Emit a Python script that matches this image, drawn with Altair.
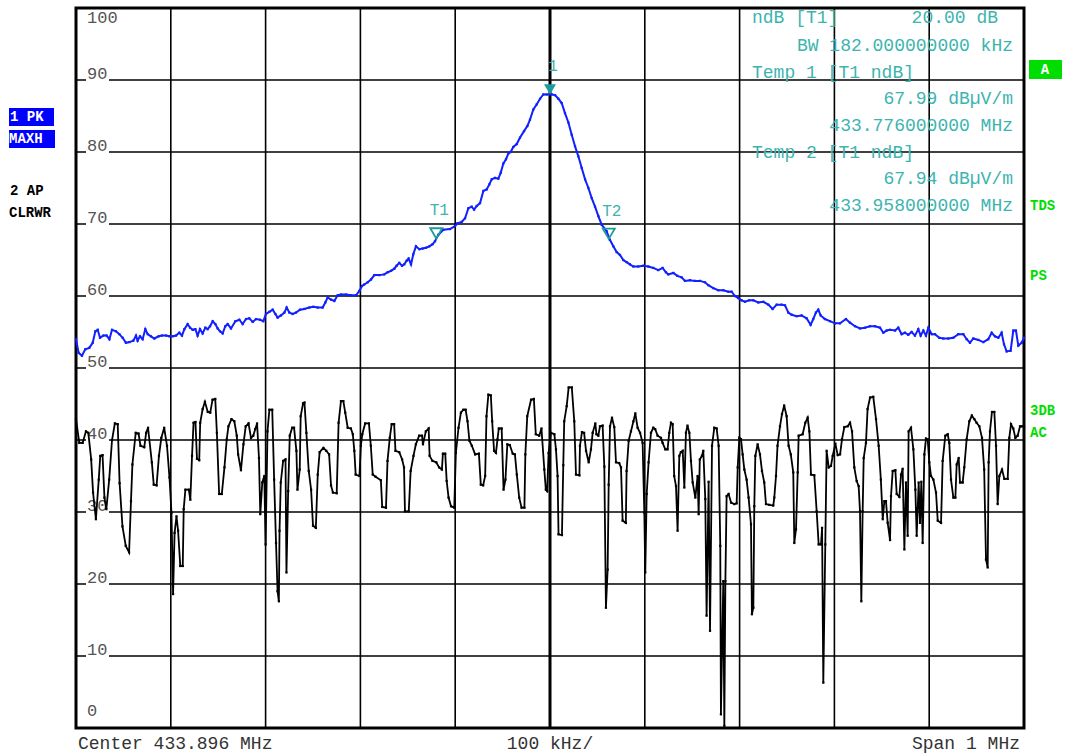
import altair as alt
import pandas as pd

# ---------------- data ----------------
F_START = 433.396  # MHz, left edge (center 433.896, span 1 MHz)

black_khz = [0, 3.5, 7, 10.5, 13, 16, 18, 21, 24, 25.6, 28, 30, 32, 35, 38, 41, 44, 46, 49, 52.5, 56, 58, 59.5, 63, 66, 68, 72, 74, 76, 80, 82, 85, 87.5, 90, 93, 96, 98.6, 100.7, 102.4, 104, 106, 107.7, 110, 112.6, 113.6, 115.4, 119, 120.6, 122.4, 124, 126, 127.6, 130, 131, 133.6, 136, 139, 141.6, 144, 146.9, 148.6, 151, 153.8, 156.6, 159, 160.8, 164, 167, 169.6, 171, 174, 176.6, 179, 182, 184.6, 187, 189, 191, 193, 194.4, 196.5, 198.6, 200, 202, 204, 207, 209, 211, 212.6, 214, 214.7, 216, 218.5, 221, 222, 223.8, 225.5, 228, 230, 232.5, 233.6, 236, 237, 239.5, 241, 243, 245.5, 248, 250,
             253, 255, 257, 261, 264, 267, 269, 271, 275, 277, 279.5, 282, 284, 286.6, 290, 292, 293.6, 295, 299, 300.5, 302, 305, 309, 311, 313, 316, 321.6, 323, 327, 328.6, 331, 333, 335.6, 337, 341, 344, 346, 347, 351, 353, 356, 358.5, 362, 365, 366, 369, 372, 373, 376, 380, 383, 386, 387, 389.5, 391, 393, 395.6, 399, 400.7, 403.5, 406, 408.6, 411, 413, 415, 417.6, 421, 425, 427, 429.5, 431.6, 433, 435, 437.6, 439, 441, 443, 444.6, 446, 449, 451, 453, 455, 457.6, 460.7, 463, 465, 467.5, 470, 473, 474, 476, 480, 483, 485, 488.6, 491, 494, 495.6, 497, 498.5, 501, 504.6,
             506.3, 508, 509, 512.6, 514, 515, 517.6, 519.7, 523, 525.6, 527.4, 531, 531.6, 533.7, 536, 538, 540.8, 543.2, 545, 547.8, 549, 551, 552.7, 555.5, 557.3, 559, 560.8, 561.9, 563.3, 565.4, 567.8, 569.6, 573, 574.9, 576.6, 580, 580.8, 583, 585.4, 588, 590, 592.4, 595, 597.7, 599.5, 600.5, 602, 604, 606.5, 609, 611, 613.5, 617, 618.8, 621.6, 624, 625.8, 627.6, 629.4, 631, 632.9, 634.6, 636.4, 638, 640, 641.7, 643.4, 645, 647, 648.7, 650.5, 653.3, 655.7, 656.8, 658, 660.3, 661.7, 663.8, 665.2, 667.3, 668.8, 670.9, 673.3, 675.8, 677.9, 679.6, 680.3, 682.8, 683.9, 685, 686.3, 688.4, 691, 694.4, 696.9, 698, 699.7, 701.5, 703.2, 705, 707.4, 709.5, 712, 713, 714.5, 715.5, 716.6, 719, 721.5, 723.6, 726, 727.8, 731.3, 735.5, 736.6, 738.4, 740, 742.6, 744.7, 747, 749.6, 751.7, 754, 756.6, 757.7,
             759.5, 761.3, 762.3, 766.5, 769.3, 771.8, 773.6, 775.3, 778.8, 781.3, 783.4, 785.9, 787, 788.3, 790.4, 791.8, 794, 796.4, 798.2, 801, 803.5, 806, 808, 810.5, 814, 816.5, 818.6, 821, 823.5, 825.6, 827, 828.4, 829.8, 830.9, 833.3, 835, 837.6, 841, 843.9, 846.7, 849, 851, 852.7, 854.4, 856.2, 858.7, 859.7, 861.5, 864.3, 865.7, 868.5, 870.3, 872, 873.8, 875.5, 877.3, 878.3, 880.8, 883.3, 885.4, 886.8, 888.9, 890.3, 891.7, 893.1, 894.9, 896.6, 898.4, 900.1, 901.9, 904.4, 907.2, 909, 912.5, 914.2, 917, 919.5, 921.2, 923, 925.5, 927.6, 929, 931.1, 932.5, 935.3, 937, 939.5, 942.3, 945, 947.6, 950, 952.9, 955.7, 958, 959.9, 961.7, 962.7, 964.1, 966.2, 968.7, 970.5, 972.2, 974, 976.8, 979.3, 982.8, 984.5, 986.3, 988.7, 990.9, 993.3, 995.8, 998, 1000]
black_db = [42.9, 39.6, 39.6, 41.2, 41, 37.3, 32.7, 29, 34.5, 37.8, 37.9, 32, 30.4, 34.5, 40, 42.3, 42.2, 34, 28, 25.3, 24.4, 31.5, 36.6, 41, 40.9, 39.2, 39, 41, 41.7, 36.9, 33.8, 33.7, 37.8, 40.3, 41.7, 39.2, 34.8, 29.9, 18.6, 27.1, 29.4, 27.4, 22.5, 22.5, 30.4, 33.1, 33.1, 31.7, 37.8, 42.4, 42.5, 37.4, 37.2, 42.4, 44.3, 45.3, 43.9, 43.8, 45.6, 45.7, 41, 32.5, 32.5, 36.2, 40.1, 41.9, 42.9, 42.6, 40.6, 38, 35.8, 39.4, 41.9, 42.3, 40.3, 40.6, 41.5, 42.3, 37.5, 29.7, 34.1, 35, 25.5, 41.2, 44.2, 44.2, 34.5, 25.7, 19, 17.6, 27.4, 34.1, 37.1, 37.3, 21.6, 32.9, 40.6, 41.7, 41.7, 38.5, 33.1, 35.9, 43.3, 45.1, 45.2, 41, 35.7, 33.1, 28.1,
            27.8, 35.2, 38.3, 38.9, 38.5, 38, 33.7, 32.7, 32.6, 42.4, 45.4, 45.4, 43.8, 41.7, 41.6, 40.8, 38.5, 35.2, 35, 39.2, 40.8, 42.3, 42.3, 39.2, 35.2, 34.9, 34.4, 30.7, 30.6, 37.1, 40.3, 42.2, 42.2, 38.5, 38.3, 37.3, 36.2, 30.1, 30.1, 35.7, 37.8, 39.4, 40.6, 40.6, 39.4, 41.2, 41.6, 37.8, 37.1, 36.9, 36.2, 35.9, 38.1, 38.1, 34.3, 32, 30.8, 30.6, 38.2, 41.7, 43.8, 44.2, 44.2, 42.6, 39.9, 39.2, 38, 38.1, 33.8, 33.7, 35, 43.3, 46.3, 46.2, 42.6, 38.5, 38.2, 40.1, 41.6, 41.6, 33.1, 34.5, 39.4, 39.3, 38.1, 38, 35.2, 32, 30.6, 30.6, 38, 43.3, 45.6, 45.7, 40.8, 40.6, 41.6, 35.9, 33.1, 32.9, 38.2, 41, 40.8,
            38.7, 35, 26.9, 26.8, 36.5, 42.6, 44.7, 47.3, 47.3, 42.6, 35.2, 35.1, 39.2, 41.1, 41, 38.5, 36.9, 38.7, 41, 42.3, 40.8, 40.6, 41.9, 42, 36.3, 16.7, 22, 33.8, 41.9, 43.1, 41.8, 36.9, 36.8, 36.2, 28.8, 28.5, 35.7, 39.9, 41.2, 42.6, 43.7, 41.7, 41, 39.6, 29.9, 21.6, 32.5, 36.9, 41, 41.7, 41.5, 40.6, 40.3, 39.6, 38.7, 38.7, 41, 42.4, 42.2, 35, 33.6, 27.4, 37.8, 38.3, 38.5, 33.4, 41, 42, 41, 37.1, 34.1, 32, 35, 29.7, 37.3, 37.8, 38.5, 31.8, 15.6, 34.2, 13.5, 39.2, 41.7, 41.6, 39.2, 25.3, 1.9, 20.4, 0.3, 20.4, 32.2, 32.5, 31.3, 31.1, 31.2, 36.2, 40.3, 40.1, 38, 35.9, 34.5, 32, 28.3, 15.8, 16.7, 30.8, 37.8, 39.4, 38, 35.7, 34.1, 31.1, 31, 30.9, 32, 35, 39.2, 41.9, 43.6, 44.8, 43.3, 39.2, 38, 35.5, 25.7,
            27.6, 35.5, 40.6, 40.8, 42.4, 43.1, 41.2, 35.2, 35.1, 30.1, 25.5, 25.5, 27.8, 6.3, 25.5, 38.5, 36.2, 36.4, 37.8, 39.5, 37.9, 38, 40.1, 41.8, 41.9, 42.4, 41.2, 36.2, 34.3, 33.6, 30.1, 17.6, 30.1, 37.5, 39.6, 44.3, 45.9, 46, 42.9, 39.2, 34.5, 29, 31.5, 31.5, 28.5, 26.1, 32.2, 35.7, 35.8, 32.5, 32.1, 35.2, 36, 24.8, 34.1, 26.7, 41.2, 41.7, 38.7, 33.1, 26.7, 34.1, 28.5, 34.2, 25.7, 38, 40.2, 40.1, 36.9, 35, 34.5, 32.7, 28.8, 28.5, 37.1, 40.6, 40.8, 39.6, 34.5, 32, 32, 36.6, 37.5, 34.1, 34.1, 36.2, 40.1, 42.6, 43.4, 42.9, 42.4, 41.9, 40.3, 35.9, 23.4, 22.3, 36.9, 41.2, 43.9, 43.9, 39.2, 31.1, 35, 35.9, 34.6, 34.6, 40.3, 42.2, 41.6, 40.3, 40.6, 41.9, 41.9, 41.9]

blue_khz = [0, 2.8, 6.3, 9.8, 14, 17.6, 20.4, 22.9, 25.3, 28.8, 32.3, 35.2, 38, 42.2, 45.7, 49.2, 52.7, 56.3, 60.5, 63.3, 65, 67.5, 70.3, 73.1, 75.6, 79.1, 82.6, 87.2, 90.7, 94.9, 98.5, 102, 105.5, 109, 111.8, 114.3, 117.8, 120.3, 123.1, 125.9, 128.3, 130.8, 133.6, 136.4, 138.9, 141.4, 144.2, 147, 149.4, 151.9, 154.7, 157.5, 160, 163.5, 168.1, 172.3, 175.8, 179.3, 182.8, 186.4, 189.9, 194.1, 197.6, 200.4, 203.9, 207.5, 210.3, 212.7, 216.2, 219.8, 222.2, 225, 228.5, 232, 236.3, 240.9, 246.1, 250.4, 254.9, 260.2, 263, 265.5, 269, 272.5, 276, 279.5, 284.8, 290, 295.4, 298.9, 301.7, 304.1, 307.7, 311.2, 314.7, 320, 325.2, 328.8, 332.3, 335.8, 338.2, 341, 343.9, 346.3, 348.8, 350.9, 353.4, 355.8, 358.6, 362.2, 365.7, 369.2, 372.7, 376.2, 378.7, 382.2, 387.5, 394.5, 399.8, 402.3, 406.9, 410.4, 413.9, 417.4, 419.9, 422.7, 426.2, 429.7, 433.2, 436, 438.5, 442, 445.5, 448, 450.8, 453.6, 456.1, 458.5, 461.3, 464.9, 468.4, 472.6, 476.1, 478.9, 482.4, 485.9, 489.5, 493, 496.5, 501.8, 505.3, 508.8, 512.3, 515.8, 519.4, 522.9, 526.4, 529.9, 533.4, 537, 540.5, 544, 547.5, 551, 554.5, 559.7, 563.2, 566.8, 570.3, 573.8, 577.3, 580.8, 584.3, 587.9, 593.1, 598.4, 603.7, 609, 614.2, 618.8, 622.3, 624.8, 630.1, 634.3, 638.8, 642.4, 647.6, 652.9, 658.2, 663.5, 667, 672.2, 677.5, 682.8, 688.1, 691.6, 695.1, 698.6, 702.1, 705.7, 710.2, 714.4, 719.7, 725, 730.3, 734.8, 739.1, 744.3, 747.9, 751.4, 754.9, 760.2, 765.4, 770.7, 774.9, 777.7, 780.5, 783, 785.5, 790, 795.3, 800.6, 805.9, 812.2, 816.4, 821.7, 827, 832.2, 837.5, 842.8, 848.1, 851.6, 855.1, 858.6, 864, 867.4, 870.9, 874.4, 877.9, 881.5, 885, 888.5, 891, 893.8, 896.6, 899.1, 902.6, 906.1, 910.6, 914.9, 920.1, 925.4, 930.7, 936, 939.5, 943, 946.5, 951.8, 957.1, 962.3, 965.9, 969.4, 972.9, 976.4, 978.9, 981.7, 985.9, 988.7, 991.5, 994, 997.5, 1000]
blue_db = [54, 52.1, 51.7, 52.6, 52.8, 53.5, 55.1, 55.3, 54.2, 54.5, 54.5, 54, 55.3, 55.1, 54.7, 54.2, 53.5, 53.6, 53.8, 54.5, 53.8, 54.4, 54, 55.4, 54.7, 54.4, 54.1, 54.4, 54.5, 54.5, 54.4, 54.4, 54.5, 54.9, 54.5, 55.4, 56.1, 55.6, 55.3, 55.4, 54.5, 55.4, 54.8, 55.6, 55.4, 55.8, 56.5, 56.1, 55.5, 55.1, 54.8, 55.8, 56.1, 55.5, 56.5, 56.7, 56.1, 56.8, 56.9, 56.4, 56.8, 56.7, 56.5, 57.5, 57.8, 58.1, 57.5, 57, 57.3, 57.7, 58.4, 57.7, 57.5, 57.7, 58.1, 58.2, 58.4, 58.5, 58.4, 58.4, 59.1, 59.8, 59.5, 59.3, 60.1, 60.2, 60.2, 60.1, 60.1, 60.7, 61.4, 61.6, 61.9, 62.3, 62.9, 62.9, 63, 63.3, 63.5, 63.8, 64.2, 64.6, 64.2, 64.4, 64.9, 65.2, 64.4, 65.8, 66.9, 66.5, 66.6, 66.7, 66.9, 67.2, 67.6, 68.5, 69.2, 69.3, 69.7, 70.1, 70.3, 70.8, 72.2, 72.4, 72, 72.5, 72.9, 74.6, 74.8, 75.5, 76.2, 76.4, 76.3, 77.1, 78.4, 79, 79.8, 80, 80.7, 81.1, 82, 82.9, 83.6, 84.5, 85.9, 86.6, 87.4, 88, 88, 88, 87.9, 87.4, 86.8, 85.4, 84.1, 82.4, 80.8, 79.4, 77.8, 76.2, 75, 73.6, 72.4, 71.1, 69.9, 69, 67.8, 66.9, 66.1, 65.7, 65, 64.7, 64.4, 64.1, 64.1, 64.2, 64.1, 63.9, 63.6, 63.9, 63.3, 63, 63.2, 62.8, 62.6, 62.1, 62.2, 62.1, 62.1, 61.9, 61.5, 61.1, 60.8, 60.8, 60.6, 60.6, 60, 59.7, 59.4, 59.2, 59.4, 59.4, 59.1, 59.2, 58.8, 58.2, 58.8, 58.8, 58.7, 57.7, 57.4, 57.2, 57.3, 56.9, 56, 56.8, 57.7, 58.1, 57.3, 56.8, 56.5, 56.2, 56.2, 56.8, 56.3, 55.8, 55.5, 55.6, 55.8, 55.8, 55.6, 54.9, 55.2, 55.3, 55.2, 55.6, 54.7, 54.9, 54.6, 55, 54.5, 55.4, 54.5, 55.2, 54.5, 55.6, 54.7, 54.7, 54.2, 54.1, 54.1, 54.2, 54.7, 54.7, 54, 53.5, 54.1, 53.9, 53.6, 54, 54.9, 54.4, 54.2, 54.9, 53.3, 52.3, 52.4, 55.2, 55.2, 53.1, 53.5, 54.2]

marker_names = ["1", "T1", "T2"]
marker_freq = [433.896, 433.776, 433.958]
marker_level = [88.0, 67.99, 67.94]

grid_khz = [0, 100, 200, 300, 400, 500, 600, 700, 800, 900, 1000]
grid_db = [0, 10, 20, 30, 40, 50, 60, 70, 80, 90, 100]
ytick_vals = [90, 80, 70, 60, 50, 40, 30, 20, 10]

info_left = ["ndB [T1]", "Temp 1 [T1 ndB]", "Temp 2 [T1 ndB]"]
info_right = ["BW 182.000000000 kHz", "67.99 dB\u00b5V/m", "433.776000000 MHz",
              "67.94 dB\u00b5V/m", "433.958000000 MHz"]

# ---------------- build ----------------
MONO = "Liberation Mono"
TEAL = "#3cb4b0"
TEAL_D = "#1a9c9a"
GREEN = "#00dd00"

W, H = 948, 720

black = pd.DataFrame({"freq": [F_START + k / 1000 for k in black_khz], "level": black_db})
blue = pd.DataFrame({"freq": [F_START + k / 1000 for k in blue_khz], "level": blue_db})
markers = pd.DataFrame({"name": marker_names, "freq": marker_freq, "level": marker_level})
gx = pd.DataFrame({"freq": [F_START + k / 1000 for k in grid_khz]})
gy = pd.DataFrame({"level": grid_db})
yt = pd.DataFrame({"level": ytick_vals, "lab": [str(v) for v in ytick_vals]})

xs = alt.Scale(domain=[F_START, F_START + 1.0], nice=False, zero=False)
ys = alt.Scale(domain=[0, 100], nice=False, zero=False)
X = lambda: alt.X("freq:Q", scale=xs, axis=None)
Y = lambda: alt.Y("level:Q", scale=ys, axis=None)

layers = []

# grid
layers.append(alt.Chart(gy).mark_rule(color="black", strokeWidth=1.6).encode(y=Y()))
layers.append(alt.Chart(gx).mark_rule(color="black", strokeWidth=1.6).encode(x=X()))
layers.append(alt.Chart(pd.DataFrame({"freq": [F_START + 0.5]})).mark_rule(
    color="black", strokeWidth=3).encode(x=X()))

# y tick labels with gap in grid line
layers.append(alt.Chart(yt).mark_rule(color="white", strokeWidth=5).encode(
    y=Y(), x=alt.value(10), x2=alt.value(33)))
layers.append(alt.Chart(yt).mark_text(align="left", baseline="bottom", dy=3, font=MONO,
                                      fontSize=17, color="#555555").encode(
    y=Y(), x=alt.value(11), text="lab:N"))


def label(text, px, py, color, size, weight="normal", align="left", baseline="middle"):
    return alt.Chart(pd.DataFrame({"t": [text]})).mark_text(
        align=align, baseline=baseline, font=MONO, fontSize=size, fontWeight=weight,
        color=color).encode(x=alt.value(px), y=alt.value(py), text="t:N")


def box(x1, x2, y1, y2, color):
    return alt.Chart(pd.DataFrame({"a": [0]})).mark_rect(color=color).encode(
        x=alt.value(x1), x2=alt.value(x2), y=alt.value(y1), y2=alt.value(y2))


layers.append(label("100", 11, 10, "#555555", 17))
layers.append(label("0", 11, 703, "#555555", 17))

# traces
layers.append(alt.Chart(black).mark_line(color="black", strokeWidth=1.8).encode(x=X(), y=Y()))
layers.append(alt.Chart(black).mark_point(shape="square", size=5, filled=True, color="black",
                                          opacity=1).encode(x=X(), y=Y()))
layers.append(alt.Chart(blue).mark_line(color="#1020ff", strokeWidth=2).encode(x=X(), y=Y()))
layers.append(alt.Chart(blue).mark_point(shape="square", size=5, filled=True, color="#1020ff",
                                         opacity=1).encode(x=X(), y=Y()))

# markers (triangle tip sits on the trace point)
TRI = "M-0.5,-0.85L0.5,-0.85L0,0Z"
layers.append(alt.Chart(markers[markers.name == "1"]).mark_point(
    shape=TRI, size=576, filled=True, color=TEAL_D, opacity=1).encode(x=X(), y=Y()))
layers.append(alt.Chart(markers[markers.name != "1"]).mark_point(
    shape=TRI, size=576, filled=False, color=TEAL_D, strokeWidth=1.8, opacity=1).encode(x=X(), y=Y()))
layers.append(alt.Chart(markers).mark_text(
    baseline="bottom", dy=-20, dx=3, font=MONO, fontSize=16, color=TEAL).encode(
    x=X(), y=Y(), text="name:N"))

# marker info block (top right)
layers.append(label(info_left[0], 676, 10, TEAL, 18))
layers.append(label("20.00 dB", 922, 10, TEAL, 18, align="right"))
layers.append(label(info_right[0], 937, 38, TEAL, 18, align="right"))
layers.append(label(info_left[1], 676, 65, TEAL, 18))
layers.append(label(info_right[1], 937, 91, TEAL, 18, align="right"))
layers.append(label(info_right[2], 937, 118, TEAL, 18, align="right"))
layers.append(label(info_left[2], 676, 145, TEAL, 18))
layers.append(label(info_right[3], 937, 171, TEAL, 18, align="right"))
layers.append(label(info_right[4], 937, 198, TEAL, 18, align="right"))

# left status labels
layers.append(box(-67, -22, 100, 118, "#0000ff"))
layers.append(box(-67, -21, 122, 140, "#0000ff"))
layers.append(label("1 PK", -66, 109, "white", 14, "bold"))
layers.append(label("MAXH", -67, 131, "white", 14, "bold"))
layers.append(label("2 AP", -66, 183, "black", 14, "bold"))
layers.append(label("CLRWR", -67, 205, "black", 14, "bold"))

# right status labels
layers.append(box(953, 986, 52, 71, GREEN))
layers.append(label("A", 969, 62, "white", 14, "bold", align="center"))
layers.append(label("TDS", 954, 198, GREEN, 14, "bold"))
layers.append(label("PS", 954, 268, GREEN, 14, "bold"))
layers.append(label("3DB", 954, 403, GREEN, 14, "bold"))
layers.append(label("AC", 954, 425, GREEN, 14, "bold"))

# bottom labels
layers.append(label("Center 433.896 MHz", 2, 736, "#333333", 18))
layers.append(label("100 kHz/", 474, 736, "#333333", 18, align="center"))
layers.append(label("Span 1 MHz", 944, 736, "#333333", 18, align="right"))

chart = alt.layer(*layers).properties(
    width=W, height=H,
    autosize=alt.AutoSizeParams(type="none"),
    padding={"left": 76, "top": 8, "right": 41, "bottom": 28},
    background="white",
).configure_view(stroke="black", strokeWidth=3)

chart.save("out.html", embed_options={"renderer": "svg", "actions": False})
